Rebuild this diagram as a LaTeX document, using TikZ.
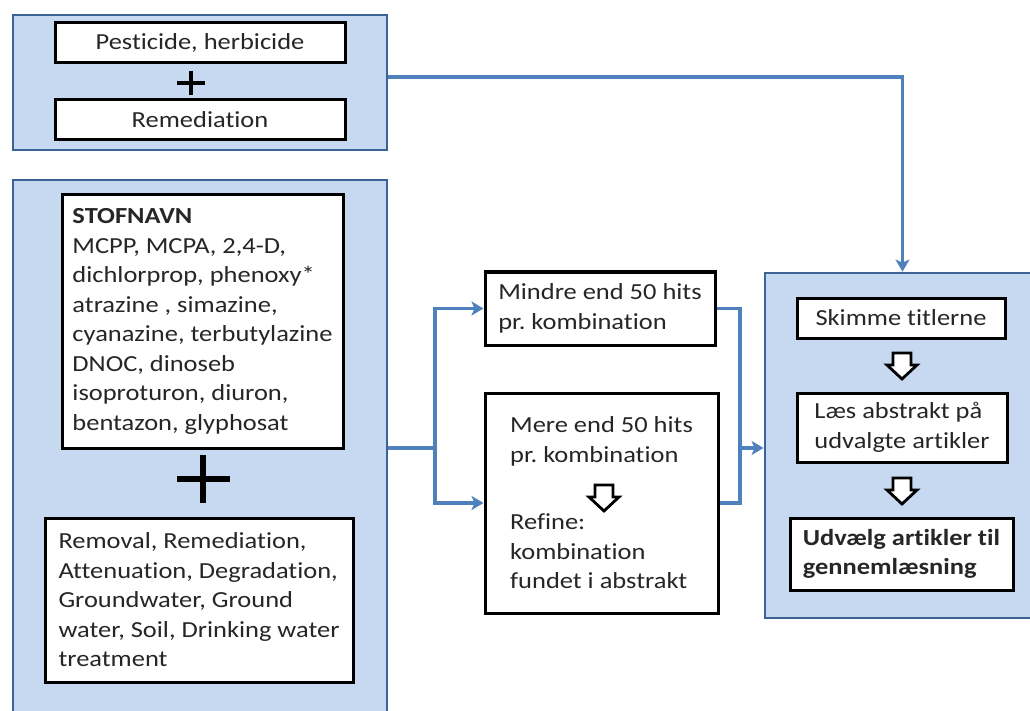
\documentclass[tikz,border=0pt]{standalone}
\usepackage{fontspec}
\setmainfont{Carlito}[FakeStretch=1.15, Ligatures={NoCommon}]
\usetikzlibrary{arrows.meta}

\definecolor{panelfill}{HTML}{C6D9F1}
\definecolor{paneledge}{HTML}{3D6396}
\definecolor{flowblue}{HTML}{4F81BD}
\definecolor{textgray}{HTML}{262626}

\begin{document}
\begin{tikzpicture}[x=1pt,y=-1pt,
  panel/.style={draw=paneledge, fill=panelfill, line width=2.8pt, inner sep=0pt},
  whitebox/.style={draw=black, fill=white, line width=3pt, align=left, inner sep=0pt,
    text=textgray, font=\fontsize{23}{29.5}\selectfont},
  plussign/.style={draw=black, line cap=butt},
  flow/.style={draw=flowblue, line width=3.5pt},
  flowarrow/.style={flow, -{Stealth[length=12pt,width=14pt,inset=3pt]}},
  hollowdown/.pic={
    \draw[line width=2.8pt, fill=white, line join=miter]
      (-9,-13) -- (9,-13) -- (9,-1) -- (15,-1) -- (0,13) -- (-15,-1) -- (-9,-1) -- cycle;
  }]
  \clip (0,0) rectangle (1030,711);

  % search words panel (top)
  \node[panel, minimum width=374pt, minimum height=135pt] (toppanel) at (200,82.5) {};
  \node[whitebox, minimum width=290pt, minimum height=40pt] (pesticide) at (200,43) {Pesticide, herbicide};
  \node[whitebox, minimum width=290pt, minimum height=40pt] (remediation) at (200,120) {Remediation};
  \draw[plussign, line width=4pt] (177,83) -- (205,83);
  \draw[plussign, line width=4pt] (191,71) -- (191,95);

  % substance names panel (left)
  \node[panel, minimum width=374pt, minimum height=536pt] (leftpanel) at (200,448) {};
  \node[whitebox, minimum width=281pt, minimum height=253pt] (stofnavn) at (202.5,321.5)
    {\textbf{STOFNAVN}\\MCPP, MCPA, 2,4-D,\\dichlorprop, phenoxy*\\atrazine , simazine,\\
     cyanazine, terbutylazine\\DNOC, dinoseb\\isoproturon, diuron,\\bentazon, glyphosat};
  \draw[plussign, line width=6pt] (177,479) -- (230,479);
  \draw[plussign, line width=6pt] (203,455) -- (203,503);
  \node[whitebox, minimum width=308pt, minimum height=164pt] (removal) at (199,600)
    {Removal, Remediation,\\Attenuation, Degradation,\\Groundwater, Ground\\
     water, Soil, Drinking water\\treatment};

  % hit counts (middle)
  \node[whitebox, minimum width=230pt, minimum height=73pt] (mindre) at (600,308.5)
    {Mindre end 50 hits\\pr.\ kombination};
  \node[whitebox, minimum width=233pt, minimum height=220pt] (mere) at (601.5,503)
    {Mere end 50 hits\\pr.\ kombination\\[38pt]Refine:\\kombination\\fundet i abstrakt};
  \pic (merearrow) at (604,498) {hollowdown};

  % screening steps panel (right)
  \node[panel, minimum width=275pt, minimum height=345pt] (rightpanel) at (902.5,445.5) {};
  \node[whitebox, minimum width=208pt, minimum height=40pt] (skimme) at (901,318) {Skimme titlerne};
  \pic (skimmearrow) at (902,366) {hollowdown};
  \node[whitebox, minimum width=210pt, minimum height=69pt] (laes) at (902,427.5)
    {Læs abstrakt på\\udvalgte artikler};
  \pic (laesarrow) at (902,491) {hollowdown};
  \node[whitebox, minimum width=223pt, minimum height=72pt] (udvaelg) at (901.5,554)
    {\textbf{Udvælg artikler til}\\\textbf{gennemlæsning}};

  % connectors
  \draw[flowarrow] ([yshift=5.5pt]toppanel.east) -| (rightpanel.north);
  \coordinate (split) at (435,448);
  \draw[flow] (leftpanel.east) -- (split);
  \draw[flowarrow] (split) |- (mindre.west);
  \draw[flowarrow] (split) |- (mere.west);
  \coordinate (merge) at (740,448);
  \draw[flow] (mindre.east) -| (merge);
  \draw[flow] (mere.east) -| (merge);
  \draw[flowarrow] (merge) -- (merge -| rightpanel.west);
\end{tikzpicture}
\end{document}
